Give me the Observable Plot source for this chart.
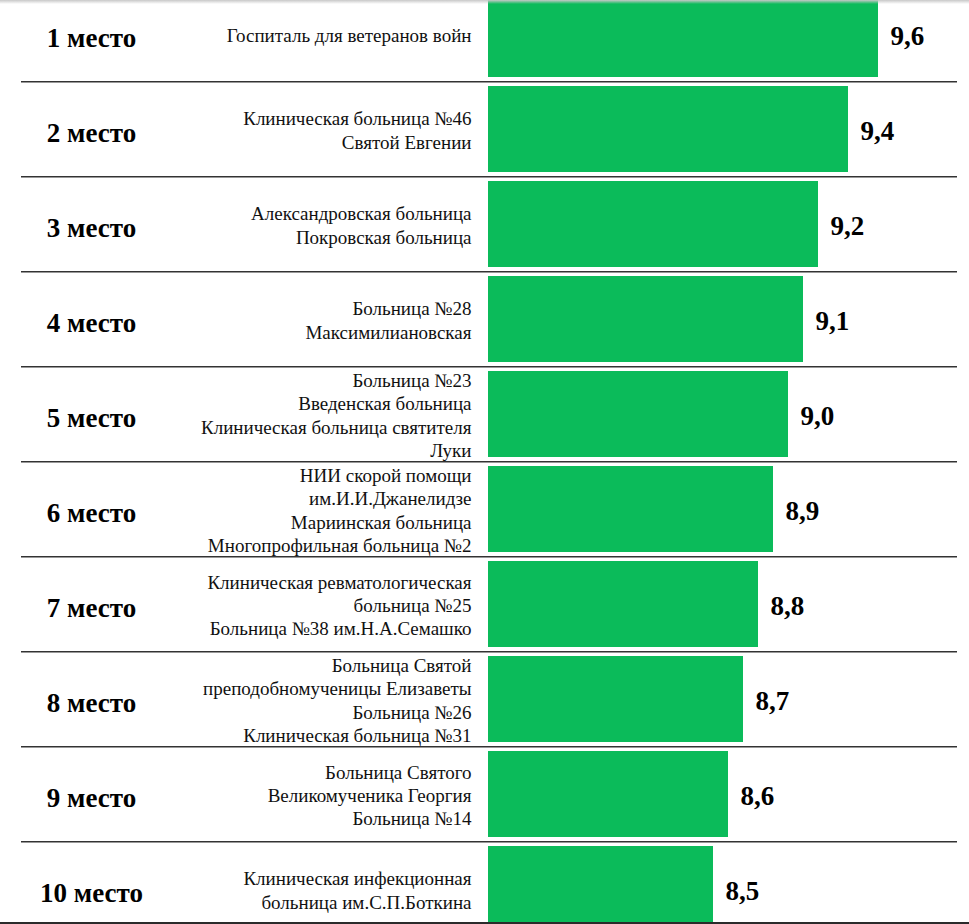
<!DOCTYPE html>
<html>
<head>
<meta charset="utf-8">
<script src="https://cdn.jsdelivr.net/npm/d3@7"></script>
<script src="https://cdn.jsdelivr.net/npm/@observablehq/plot@0.6"></script>
<style>
  html, body { margin: 0; padding: 0; background: #fff; }
  #chart svg { overflow: hidden; display: block; }
  #topshade { position: absolute; left: 0; top: 0; width: 969px; height: 4px; background: linear-gradient(#c8c8c8, rgba(255,255,255,0)); pointer-events: none; }
  #bottomstrip { height: 2px; background: #2b2b2b; }
</style>
</head>
<body>
<div id="chart"></div>
<div id="bottomstrip"></div>
<div id="topshade"></div>
<script>
const ranks = ["1 место", "2 место", "3 место", "4 место", "5 место", "6 место", "7 место", "8 место", "9 место", "10 место"];
const names = [
  "Госпиталь для ветеранов войн",
  "Клиническая больница №46\nСвятой Евгении",
  "Александровская больница\nПокровская больница",
  "Больница №28\nМаксимилиановская",
  "Больница №23\nВведенская больница\nКлиническая больница святителя\nЛуки",
  "НИИ скорой помощи\nим.И.И.Джанелидзе\nМариинская больница\nМногопрофильная больница №2",
  "Клиническая ревматологическая\nбольница №25\nБольница №38 им.Н.А.Семашко",
  "Больница Святой\nпреподобномученицы Елизаветы\nБольница №26\nКлиническая больница №31",
  "Больница Святого\nВеликомученика Георгия\nБольница №14",
  "Клиническая инфекционная\nбольница им.С.П.Боткина"
];
const values = [9.6, 9.4, 9.2, 9.1, 9.0, 8.9, 8.8, 8.7, 8.6, 8.5];
const baseline = 7.0;

const data = ranks.map((r, i) => ({rank: r, name: names[i], value: values[i], label: values[i].toFixed(1).replace(".", ",")}));

const step = 95.5;
const font = "Liberation Serif, DejaVu Serif, Noto Serif, Times New Roman, Times, serif";

const chart = Plot.plot({
  width: 969,
  height: 922,
  marginLeft: 21,
  marginRight: 12,
  marginTop: 0,
  marginBottom: 0,
  style: {fontFamily: font, background: "#fff"},
  x: {domain: [baseline, 9.6], range: [488, 878], axis: null},
  y: {domain: ranks, range: [31.5 - step / 2, 31.5 + 9 * step + step / 2], paddingInner: 0.1, paddingOuter: 0.05, align: 0.5, axis: null},
  marks: [
    Plot.ruleY(ranks.slice(1), {y: d => d, dy: -step / 2, stroke: "#333", strokeWidth: 1.5}),
    Plot.barX(data, {y: "rank", x1: baseline, x2: "value", fill: "#0bbb5a"}),
    Plot.text(data, {y: "rank", text: "rank", frameAnchor: "left", textAnchor: "middle", dx: 70, dy: 4, fontSize: 27, fontWeight: "bold", fontFamily: font, fill: "#000"}),
    Plot.text(data, {y: "rank", x: baseline, text: "name", textAnchor: "end", dx: -17, fontSize: 19, lineHeight: 1.22, fontFamily: font, fill: "#111"}),
    Plot.text(data, {y: "rank", x: "value", text: "label", textAnchor: "start", dx: 12, dy: 2, fontSize: 27, fontWeight: "bold", fontFamily: font, fill: "#000"})
  ]
});
document.getElementById("chart").appendChild(chart);
</script>
</body>
</html>
